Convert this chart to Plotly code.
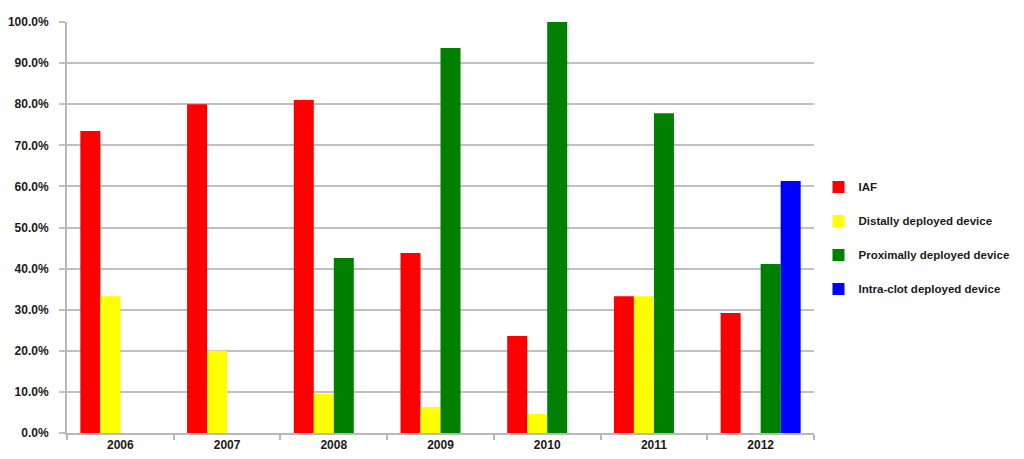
import plotly.graph_objects as go

years = ["2006", "2007", "2008", "2009", "2010", "2011", "2012"]
iaf = [73.5, 80.0, 81.0, 43.8, 23.6, 33.3, 29.2]
distal = [33.3, 20.0, 9.5, 6.3, 4.6, 33.3, 0.0]
proximal = [0.0, 0.0, 42.6, 93.7, 100.0, 77.8, 41.1]
intraclot = [0.0, 0.0, 0.0, 0.0, 0.0, 0.0, 61.3]
y_ticks = [0, 10, 20, 30, 40, 50, 60, 70, 80, 90, 100]
y_tick_labels = [f"{v:.1f}%" for v in y_ticks]

series = [
    ("IAF", iaf, "#ff0000"),
    ("Distally deployed device", distal, "#ffff00"),
    ("Proximally deployed device", proximal, "#008000"),
    ("Intra-clot deployed device", intraclot, "#0000ff"),
]

fig = go.Figure()
for i, (name, vals, color) in enumerate(series):
    fig.add_trace(go.Bar(
        x=years, y=vals, name=name, marker=dict(color=color, line=dict(width=0)),
        legendgroup=f"g{i}",
    ))

font_family = "Liberation Sans, Arial, sans-serif"
fig.update_layout(
    width=1016, height=451,
    margin=dict(l=59, r=210, t=14, b=26, autoexpand=False),
    paper_bgcolor="white", plot_bgcolor="white",
    barmode="group", bargap=0.25, bargroupgap=0,
    font=dict(family=font_family, size=12, color="#1a1a1a", weight="bold"),
    legend=dict(x=1.006, y=0.634, xanchor="left", yanchor="top",
                tracegroupgap=15, font=dict(size=11.5, weight="bold"),
                bgcolor="rgba(0,0,0,0)"),
    xaxis=dict(
        automargin=False,
        showline=True, linecolor="#b8b8b8", linewidth=2,
        ticks="outside", tickson="boundaries", ticklen=5, tickcolor="#b8b8b8",
        tickwidth=2, tickfont=dict(size=12, weight="bold", color="#1a1a1a"),
        showgrid=False,
    ),
    yaxis=dict(
        automargin=False,
        range=[0, 100], tickvals=y_ticks, ticktext=y_tick_labels,
        showline=True, linecolor="#b8b8b8", linewidth=2,
        showgrid=True, gridcolor="#c0c0c0", gridwidth=2,
        ticks="outside", ticklen=6, tickcolor="#c0c0c0", tickwidth=2,
        ticklabelstandoff=8,
        tickfont=dict(size=12, weight="bold", color="#1a1a1a"),
        zeroline=False,
    ),
)

fig.write_html("out.html")
